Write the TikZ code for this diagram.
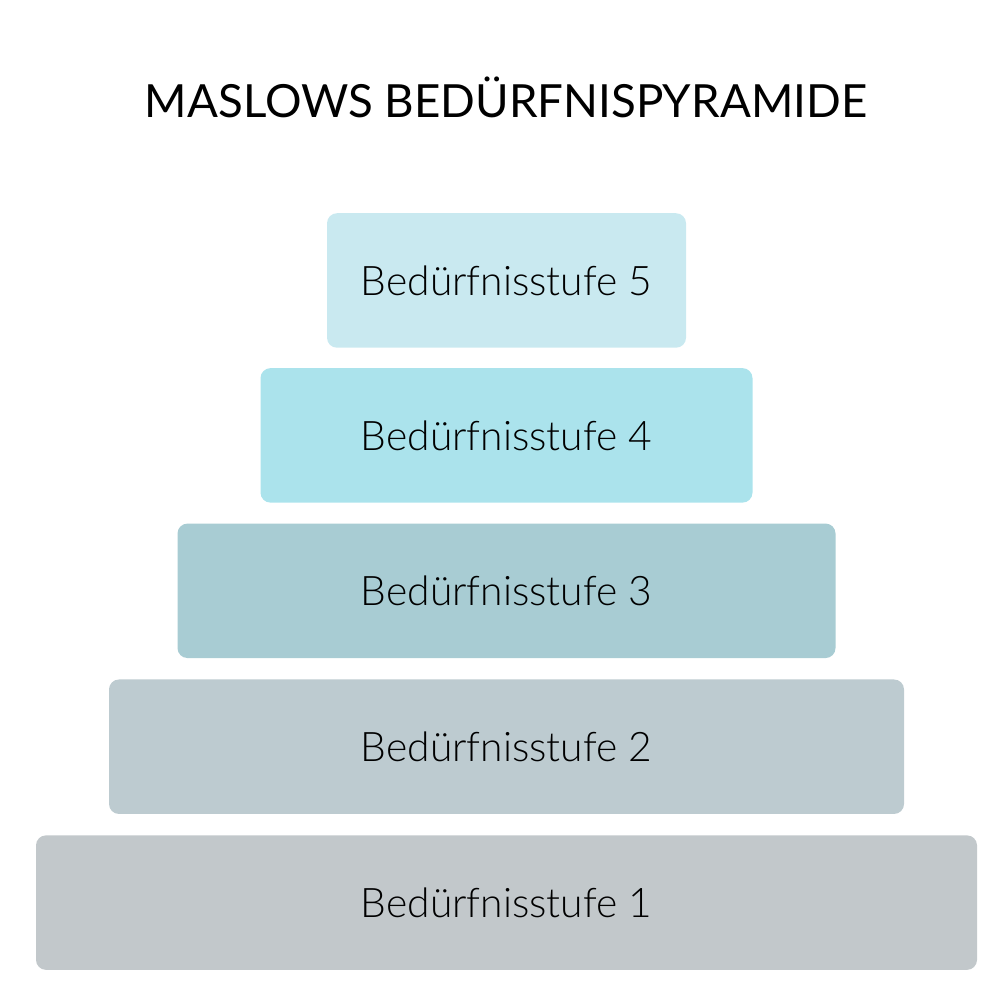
\documentclass[tikz,border=0pt]{standalone}
\usepackage{fontspec}
\setmainfont{Lato}
\newfontfamily\leicht{Lato Light}
\usepackage{xcolor}
\usetikzlibrary{positioning}

\definecolor{stufeV}{HTML}{C9E9F0}
\definecolor{stufeIV}{HTML}{ABE3EC}
\definecolor{stufeIII}{HTML}{A8CCD3}
\definecolor{stufeII}{HTML}{BDCBD0}
\definecolor{stufeI}{HTML}{C2C8CB}

\begin{document}
\begin{tikzpicture}[
    font=\fontsize{13}{15}\selectfont,
    every node/.style={align=center},
    stufe/.style={rounded corners=1mm, minimum height=1.345cm, inner sep=0pt,
                  font=\fontsize{11.6}{14}\selectfont\leicht},
]
\useasboundingbox (0,0) rectangle (10,10);

% Title
\node (titel) at (5.06,9.03) {MASLOWS BEDÜRFNISPYRAMIDE};

% Pyramid levels, top to bottom
\node[stufe, fill=stufeV, minimum width=3.59cm] (s5) at (5.065,7.195) {Bedürfnisstufe 5};
\node[stufe, fill=stufeIV, minimum width=4.92cm, below=0.19cm of s5] (s4) {Bedürfnisstufe 4};
\node[stufe, fill=stufeIII, minimum width=6.58cm, below=0.195cm of s4] (s3) {Bedürfnisstufe 3};
\node[stufe, fill=stufeII, minimum width=7.95cm, below=0.2cm of s3] (s2) {Bedürfnisstufe 2};
\node[stufe, fill=stufeI, minimum width=9.41cm, below=0.2cm of s2] (s1) {Bedürfnisstufe 1};

\end{tikzpicture}
\end{document}
